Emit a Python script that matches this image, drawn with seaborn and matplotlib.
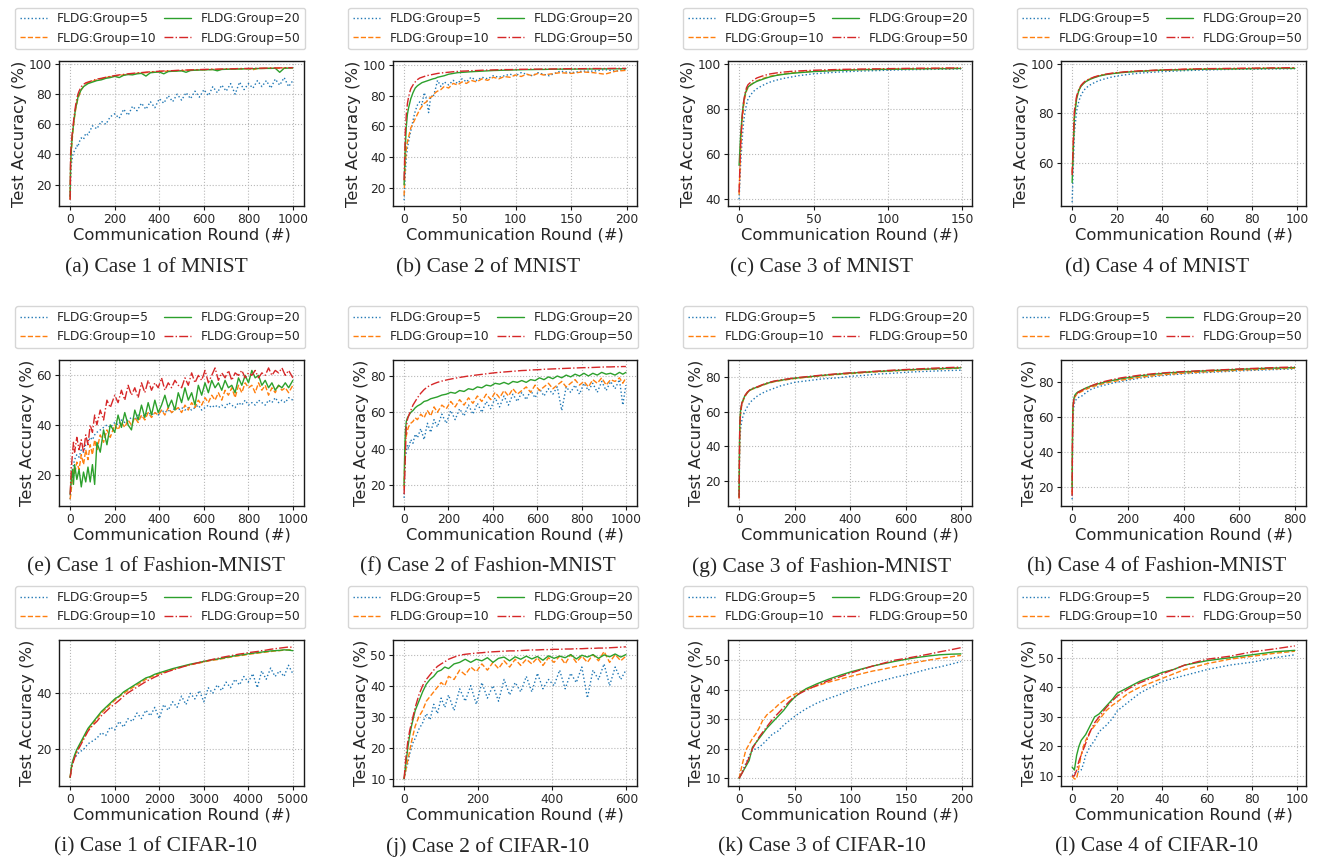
import matplotlib
matplotlib.use('Agg')
import matplotlib.pyplot as plt
from matplotlib.ticker import MultipleLocator
import seaborn as sns

# ---------------- data ----------------
# (a) Case 1 of MNIST
a_x = [0, 2, 4, 6, 8, 10, 13, 16, 20, 25,
       30, 35, 40, 50, 60, 70, 80, 100, 120, 140,
       160, 180, 200, 220, 240, 260, 280, 300, 320, 340,
       360, 380, 400, 420, 440, 460, 480, 500, 520, 540,
       560, 580, 600, 620, 640, 660, 680, 700, 720, 740,
       760, 780, 800, 820, 840, 860, 880, 900, 920, 940,
       960, 980, 999]
a_g5 = [10, 22, 30, 34, 36, 38, 40, 41, 43, 44,
        46, 45, 48, 51, 50, 54, 53, 59, 57, 62,
        60, 65, 67, 64, 70, 66, 72, 69, 74, 70,
        75, 71, 77, 74, 79, 75, 80, 76, 81, 77,
        82, 78, 83, 79, 85, 81, 86, 82, 87, 80,
        88, 83, 87, 84, 89, 85, 89, 84, 90, 86,
        91, 85, 89]
a_g10 = [10, 30, 38, 43, 47, 51, 56, 60, 65, 70,
         74, 77, 79, 83, 85, 86.5, 87.5, 88.5, 89.5, 90.2,
         91, 91.6, 92, 92.4, 92.8, 93.2, 93.5, 93.8, 94, 94.3,
         94.5, 94.7, 95, 95.1, 95.3, 95.4, 95.5, 95.6, 95.8, 95.9,
         96, 96.1, 96.2, 96.3, 96.4, 96.4, 96.5, 96.6, 96.6, 96.7,
         96.8, 96.8, 96.9, 96.2, 97, 97.1, 97.1, 97.2, 97.2, 97.3,
         97.3, 97.4, 97.5]
a_g20 = [12, 33, 40, 45, 49, 53, 57, 61, 66, 71,
         74, 78, 80, 83, 85, 86, 87, 88, 89, 89.5,
         90.5, 91, 91.8, 91, 92.5, 93, 92.8, 93.5, 93.8, 92,
         94.2, 94.5, 94.7, 93.5, 95, 95.2, 95.3, 95.5, 94.5, 95.7,
         95.9, 96, 96.1, 96.2, 96.3, 95.5, 96.4, 96.5, 96.6, 96.6,
         96.7, 96.8, 96.8, 96.9, 97, 97, 97.1, 97.1, 97.2, 94.5,
         97.2, 97.3, 97.4]
a_g50 = [10, 40, 45, 48, 52, 55, 59, 63, 68, 73,
         77, 80, 82, 85, 86.5, 87.5, 88, 89, 90, 90.5,
         91.2, 91.8, 92.3, 92.8, 93.1, 93.5, 93.8, 94.1, 94.3, 94.6,
         94.8, 95, 95.2, 95.4, 95.5, 95.6, 95.8, 95.9, 96, 96.1,
         96.2, 96.3, 96.4, 96.5, 96.5, 96.6, 96.7, 96.8, 96.8, 96.9,
         97, 97, 97.1, 97.1, 97.2, 97.2, 97.3, 97.3, 97.4, 97.4,
         97.5, 97.5, 97.6]

# (b) Case 2 of MNIST
b_x = [0, 1, 2, 3, 4, 5, 6, 8, 10, 12,
       14, 16, 18, 20, 22, 24, 26, 28, 30, 33,
       36, 40, 44, 48, 52, 56, 60, 65, 70, 75,
       80, 85, 90, 95, 100, 105, 110, 115, 120, 125,
       130, 140, 150, 160, 170, 180, 190, 199]
b_g5 = [12, 28, 40, 46, 50, 54, 57, 64, 70, 74,
        76, 74, 82, 78, 69, 80, 79, 84, 90, 86,
        89, 87, 90, 88, 91, 89, 92, 90, 92, 91,
        93, 92, 93, 94, 93, 95, 94, 93, 95, 94,
        93, 96, 95, 96, 96, 97, 96, 97.5]
b_g10 = [15, 35, 45, 50, 53, 56, 59, 62, 65, 68,
         71, 73, 75, 76, 78, 79, 80, 82, 83, 84,
         86, 85, 88, 87, 89, 88, 90, 89, 91, 90,
         92, 91, 92.5, 92, 93.5, 92.5, 94, 93, 94.5, 93.5,
         94, 95, 94.5, 95.5, 95, 94, 96, 96.5]
b_g20 = [22, 45, 60, 68, 72, 75, 78, 82, 85, 86.5,
         87.5, 88.5, 89, 89.5, 90, 90.5, 91, 91.3, 92, 92.5,
         93, 94, 94.5, 95, 95.2, 95.4, 95.6, 95.8, 96, 96.2,
         96.4, 96.5, 96.6, 96.7, 96.8, 96.9, 97, 97, 97.1, 97.1,
         97.2, 97.3, 97.3, 97.4, 97.4, 97.5, 97.5, 97.6]
b_g50 = [25, 55, 68, 75, 79, 82, 84.5, 87, 89, 90.5,
         91.5, 92, 92.5, 93, 93.3, 93.6, 93.9, 94.2, 94.5, 94.8,
         95, 95.3, 95.6, 95.8, 96, 96.1, 96.3, 96.4, 96.6, 96.7,
         96.8, 96.9, 97, 97, 97.1, 97.2, 97.2, 97.3, 97.3, 97.4,
         97.4, 97.5, 97.6, 97.6, 97.7, 97.7, 97.8, 97.8]

# (c) Case 3 of MNIST
c_x = [0, 1, 2, 3, 4, 5, 6, 8, 10, 12,
       15, 18, 21, 25, 30, 35, 40, 50, 60, 70,
       80, 90, 100, 110, 120, 130, 140, 149]
c_g5 = [40, 55, 66, 74, 79, 82, 84.5, 86.5, 88, 89,
        90.2, 91.2, 92, 92.8, 93.6, 94.2, 94.8, 95.6, 96.1, 96.5,
        96.8, 97, 97.2, 97.4, 97.5, 97.6, 97.7, 97.8]
c_g10 = [42, 62, 74, 81, 85.5, 88, 89.5, 90.8, 91.8, 92.5,
         93.3, 94, 94.6, 95.1, 95.6, 96, 96.3, 96.8, 97.1, 97.3,
         97.5, 97.6, 97.7, 97.8, 97.9, 98, 98, 98.1]
c_g20 = [55, 68, 77, 83, 86.5, 88.5, 89.8, 90.8, 91.6, 92.3,
         93, 93.7, 94.3, 94.9, 95.4, 95.8, 96.1, 96.6, 96.9, 97.2,
         97.4, 97.5, 97.6, 97.7, 97.8, 97.9, 97.9, 98]
c_g50 = [43, 64, 76, 83, 87, 89.5, 90.8, 92, 93, 93.8,
         94.5, 95.1, 95.6, 96, 96.4, 96.7, 96.9, 97.2, 97.4, 97.6,
         97.7, 97.8, 97.9, 98, 98.1, 98.1, 98.2, 98.2]

# (d) Case 4 of MNIST
d_x = [0, 1, 2, 3, 4, 5, 6, 8, 10, 12,
       15, 18, 22, 26, 30, 35, 40, 50, 60, 70,
       80, 90, 99]
d_g5 = [44, 72, 81, 85, 87.5, 89, 90.2, 91.5, 92.5, 93.3,
        94.1, 94.8, 95.4, 95.9, 96.3, 96.6, 96.9, 97.3, 97.6, 97.8,
        97.9, 98, 98.1]
d_g10 = [56, 80, 86.5, 89.5, 91.2, 92.2, 93, 94, 94.7, 95.2,
         95.8, 96.2, 96.6, 96.9, 97.1, 97.3, 97.5, 97.8, 98, 98.1,
         98.2, 98.3, 98.3]
d_g20 = [52, 78, 86, 89.3, 91, 92, 92.8, 93.8, 94.5, 95.1,
         95.7, 96.1, 96.5, 96.8, 97, 97.3, 97.5, 97.7, 97.9, 98,
         98.1, 98.2, 98.2]
d_g50 = [55, 81, 87, 89.8, 91.4, 92.4, 93.2, 94.1, 94.8, 95.3,
         95.9, 96.3, 96.7, 97, 97.2, 97.4, 97.6, 97.9, 98.1, 98.2,
         98.3, 98.4, 98.5]

# (e) Case 1 of Fashion-MNIST
e_x = [0, 5, 10, 15, 20, 30, 40, 50, 60, 70,
       80, 90, 100, 110, 120, 135, 150, 165, 180, 200,
       215, 230, 245, 260, 275, 290, 305, 320, 335, 350,
       365, 380, 395, 410, 425, 440, 455, 470, 485, 500,
       515, 530, 545, 560, 575, 590, 605, 620, 635, 650,
       665, 680, 695, 710, 725, 740, 755, 770, 785, 800,
       815, 830, 845, 860, 875, 890, 905, 920, 935, 950,
       965, 980, 999]
e_g5 = [10, 16, 20, 24, 26, 28, 27, 30, 29, 32,
        33, 35, 34, 36, 37, 38, 39, 40, 39, 41,
        40, 42, 41, 42, 43, 42, 44, 43, 44, 45,
        44, 45, 44, 46, 45, 46, 45, 47, 46, 47,
        46, 47, 46, 47, 48, 46, 47, 48, 47, 48,
        47, 48, 47, 49, 48, 47, 49, 48, 50, 48,
        49, 48, 50, 49, 48, 50, 49, 51, 49, 50,
        49, 51, 50]
e_g10 = [10, 14, 18, 22, 20, 25, 22, 28, 24, 30,
         26, 32, 28, 34, 30, 36, 33, 38, 35, 40,
         38, 41, 39, 42, 40, 43, 41, 44, 42, 45,
         43, 45, 44, 46, 44, 47, 45, 46, 47, 45,
         48, 46, 49, 47, 50, 48, 51, 49, 52, 50,
         53, 50, 54, 52, 55, 51, 56, 53, 57, 55,
         56, 53, 57, 54, 56, 52, 55, 53, 56, 54,
         55, 53, 56]
e_g20 = [12, 18, 22, 16, 24, 18, 22, 15, 21, 17,
         23, 17, 24, 16, 33, 29, 38, 32, 40, 37,
         44, 39, 45, 40, 38, 46, 42, 48, 43, 49,
         44, 50, 45, 48, 52, 47, 50, 46, 53, 49,
         55, 50, 53, 48, 56, 52, 57, 53, 58, 55,
         57, 54, 58, 55, 56, 53, 59, 56, 60, 57,
         62, 59, 60, 56, 58, 55, 57, 54, 56, 55,
         57, 55, 58]
e_g50 = [12, 22, 28, 33, 29, 35, 30, 34, 29, 36,
         32, 40, 37, 44, 40, 46, 42, 50, 47, 52,
         49, 54, 50, 56, 52, 55, 51, 57, 53, 58,
         54, 57, 55, 59, 54, 57, 55, 58, 56, 55,
         59, 56, 61, 57, 60, 58, 62, 57, 60, 63,
         58, 61, 59, 62, 58, 61, 60, 62, 59, 61,
         60, 62, 59, 61, 60, 63, 60, 62, 61, 63,
         60, 62, 59]

# (f) Case 2 of Fashion-MNIST
f_x = [0, 3, 6, 10, 15, 20, 30, 40, 50, 60,
       75, 90, 105, 120, 135, 150, 170, 190, 210, 230,
       250, 270, 290, 310, 330, 350, 370, 390, 410, 430,
       450, 470, 490, 510, 530, 550, 570, 590, 610, 630,
       650, 670, 690, 710, 730, 750, 770, 790, 810, 830,
       850, 870, 890, 910, 930, 950, 970, 985, 999]
f_g5 = [13, 28, 36, 38, 42, 40, 45, 43, 48, 46,
        51, 45, 54, 49, 56, 52, 59, 54, 61, 56,
        62, 58, 64, 59, 65, 60, 66, 62, 68, 63,
        69, 64, 70, 66, 71, 67, 72, 68, 73, 69,
        73, 70, 74, 61, 74, 71, 75, 70, 76, 72,
        76, 71, 77, 72, 77, 73, 78, 64, 75]
f_g10 = [18, 35, 44, 47, 50, 52, 54, 55, 57, 56,
         59, 57, 61, 58, 63, 60, 64, 62, 66, 63,
         67, 64, 68, 65, 69, 66, 70, 67, 71, 68,
         72, 69, 73, 70, 72, 74, 71, 75, 72, 74,
         76, 73, 75, 77, 74, 76, 78, 75, 77, 74,
         78, 76, 79, 75, 78, 77, 79, 76, 79]
f_g20 = [20, 40, 50, 55, 57, 58, 60, 61, 62.5, 63.5,
         64.5, 66, 66.5, 67.5, 68, 68.5, 69.5, 70, 71, 70.5,
         72, 71.5, 73, 72.5, 74, 73.5, 75, 74.5, 76, 75.5,
         76.5, 75.5, 77, 76.5, 77.5, 76.5, 78, 77.5, 79, 78,
         79.5, 78.5, 80, 79, 80.5, 79.5, 81, 80, 81.5, 80,
         81.5, 80.5, 82, 81, 81.5, 80.5, 82, 81, 82]
f_g50 = [15, 25, 38, 52, 56, 58, 61, 64, 66, 68,
         70.5, 72.5, 74, 75, 75.8, 76.5, 77.2, 77.8, 78.3, 78.8,
         79.2, 79.6, 80, 80.3, 80.6, 80.9, 81.2, 81.5, 81.8, 82,
         82.2, 82.4, 82.6, 82.8, 83, 83.1, 83.3, 83.4, 83.5, 83.7,
         83.8, 83.9, 84, 84.1, 84.2, 84.3, 84.4, 84.5, 84.6, 84.6,
         84.7, 84.8, 84.9, 85, 85, 85.1, 85.1, 85.2, 85.2]

# (g) Case 3 of Fashion-MNIST
g_x = [0, 1, 2, 3, 5, 7, 10, 15, 20, 30,
       40, 50, 65, 80, 100, 125, 150, 175, 200, 250,
       300, 350, 400, 450, 500, 550, 600, 650, 700, 750,
       799]
g_g5 = [12, 25, 38, 44, 49, 52, 55, 58, 60, 63,
        65.5, 67, 69, 70.5, 72, 73.5, 75, 76, 77, 78,
        79, 79.5, 80.5, 81, 81.8, 82.2, 82.8, 83.2, 83.5, 83.8,
        84]
g_g10 = [10, 30, 45, 52, 58, 61, 64, 66.5, 68.5, 71,
         72.5, 73.2, 74, 75, 76.2, 77.3, 78, 78.6, 79.2, 80,
         80.8, 81.5, 82, 82.6, 83.1, 83.5, 84, 84.3, 84.6, 84.9,
         85.2]
g_g20 = [11, 33, 48, 55, 60, 62.5, 65, 67, 69, 71.2,
         72.6, 73.4, 74.2, 75.2, 76.4, 77.5, 78.2, 78.8, 79.4, 80.2,
         81, 81.7, 82.3, 82.8, 83.3, 83.7, 84.2, 84.5, 84.8, 85.1,
         85.4]
g_g50 = [10, 31, 46, 54, 59, 62, 65, 67.2, 69.2, 71.4,
         72.8, 73.6, 74.4, 75.4, 76.6, 77.7, 78.4, 79, 79.6, 80.4,
         81.2, 81.9, 82.5, 83, 83.5, 84, 84.4, 84.8, 85.2, 85.5,
         85.8]

# (h) Case 4 of Fashion-MNIST
h_x = [0, 1, 2, 3, 5, 7, 10, 15, 20, 30,
       40, 50, 65, 80, 100, 125, 150, 175, 200, 250,
       300, 350, 400, 450, 500, 550, 600, 650, 700, 750,
       799]
h_g5 = [13, 35, 50, 58, 64, 67, 69, 70, 71, 71.5,
        72.5, 74, 75.5, 76.5, 77.5, 78.5, 79.5, 80.2, 81, 82.3,
        83.2, 84, 84.6, 85.1, 85.5, 85.9, 86.3, 86.6, 86.9, 87.2,
        87.4]
h_g10 = [16, 42, 58, 64, 68, 70, 71.5, 72.5, 73.3, 74.2,
         75, 75.8, 76.8, 77.6, 78.5, 79.5, 80.3, 81, 81.6, 82.8,
         83.7, 84.4, 85, 85.5, 85.9, 86.3, 86.7, 87, 87.3, 87.6,
         87.8]
h_g20 = [20, 45, 60, 66, 69, 71, 72.5, 73.5, 74.2, 75,
         75.8, 76.6, 77.5, 78.3, 79.2, 80.2, 81, 81.8, 82.4, 83.6,
         84.5, 85.2, 85.7, 86.1, 86.5, 86.8, 87.2, 87.5, 87.8, 88,
         88.2]
h_g50 = [15, 43, 59, 65, 68.5, 70.5, 72, 73, 73.8, 74.8,
         75.6, 76.5, 77.5, 78.5, 79.6, 80.6, 81.5, 82.3, 82.9, 84,
         84.8, 85.4, 85.9, 86.3, 86.7, 87, 87.4, 87.7, 88, 88.3,
         88.5]

# (i) Case 1 of CIFAR-10
i_x = [0, 25, 50, 100, 150, 200, 300, 400, 500, 600,
       700, 800, 900, 1000, 1100, 1200, 1300, 1400, 1500, 1600,
       1700, 1800, 1900, 2000, 2100, 2200, 2300, 2400, 2500, 2600,
       2700, 2800, 2900, 3000, 3100, 3200, 3300, 3400, 3500, 3600,
       3700, 3800, 3900, 4000, 4100, 4200, 4300, 4400, 4500, 4600,
       4700, 4800, 4900, 4999]
i_g5 = [10, 13, 15, 17, 18, 19, 20, 22, 23, 24,
        26, 25, 28, 27, 30, 28, 31, 30, 33, 31,
        34, 32, 35, 31, 36, 34, 37, 35, 39, 36,
        40, 38, 41, 37, 42, 40, 43, 41, 44, 42,
        45, 43, 46, 44, 47, 42, 48, 45, 49, 46,
        48, 46, 50, 47]
i_g10 = [10, 13, 15, 17.5, 19.5, 21, 24, 27, 29, 31,
         33, 34.5, 36, 37.5, 38.8, 40, 41, 42, 43, 44,
         45, 45.7, 46.4, 47, 47.5, 48, 48.5, 49, 49.5, 49.8,
         50.2, 50.5, 50.8, 51.2, 51.5, 51.8, 52, 52.3, 52.6, 52.9,
         53.2, 53.4, 53.6, 53.9, 54.1, 54.3, 54.5, 54.7, 54.9, 55.1,
         55.2, 55.4, 55.5, 55.6]
i_g20 = [10, 13.5, 15.5, 18, 20, 21.5, 24.5, 27.5, 29.5, 31.5,
         33.5, 35, 36.5, 38, 39, 40.5, 41.5, 42.5, 43.5, 44.5,
         45.5, 46, 46.8, 47.3, 47.8, 48.3, 48.8, 49.2, 49.6, 50,
         50.4, 50.7, 51, 51.4, 51.7, 52, 52.2, 52.5, 52.8, 53.1,
         53.4, 53.6, 53.8, 54.1, 54.3, 54.5, 54.7, 54.9, 55.1, 55.2,
         55.3, 55.5, 55.4, 55.2]
i_g50 = [10, 12.5, 14.5, 17, 19, 20.5, 23.5, 26.5, 28.5, 30,
         32, 33.5, 35, 36.2, 37.5, 39, 40.2, 41.2, 42.2, 43.2,
         44.2, 45, 45.8, 46.5, 47.2, 47.8, 48.3, 48.8, 49.3, 49.8,
         50.2, 50.6, 51, 51.4, 51.7, 52.1, 52.4, 52.8, 53.1, 53.4,
         53.7, 54, 54.2, 54.5, 54.7, 54.9, 55.2, 55.4, 55.7, 55.9,
         56.1, 56.3, 56.5, 56.4]

# (j) Case 2 of CIFAR-10
j_x = [0, 5, 10, 15, 20, 25, 30, 40, 50, 60,
       70, 80, 90, 100, 110, 120, 135, 150, 165, 180,
       195, 210, 225, 240, 255, 270, 285, 300, 315, 330,
       345, 360, 375, 390, 405, 420, 435, 450, 465, 480,
       495, 510, 525, 540, 555, 570, 585, 599]
j_g5 = [10, 13, 15, 18, 20, 22, 23, 26, 28, 31,
        29, 34, 31, 36, 33, 37, 32, 39, 35, 40,
        34, 41, 36, 40, 35, 42, 37, 41, 38, 43,
        38, 44, 39, 42, 40, 45, 39, 44, 41, 46,
        36, 45, 42, 47, 40, 46, 42, 45]
j_g10 = [10, 13, 16, 19, 22, 24.5, 27, 30, 32, 35,
         36.5, 38, 39.5, 41, 40, 43, 42, 45, 43.5, 46,
         44.5, 47, 45, 47.5, 45.5, 48, 46, 48.5, 46.5, 48.5,
         47, 49, 46.5, 49, 47.5, 49.5, 47, 50, 47.5, 49.5,
         47.5, 50, 48, 51, 47.5, 50, 48, 49.5]
j_g20 = [10, 15, 20, 24, 27, 29.5, 32, 35, 38, 40.5,
         42, 43, 44.5, 45, 46, 45.5, 47, 47.5, 48.5, 47.5,
         48.5, 48, 49, 47.5, 48.8, 49.2, 48, 49.3, 48.5, 49.5,
         48.6, 49.4, 48.2, 49.6, 48.8, 49.5, 49, 50, 48.6, 49.8,
         49.2, 50, 48.8, 49.9, 49.3, 50.2, 49.2, 50]
j_g50 = [10, 17, 22, 25.5, 28, 30.5, 33, 37, 40, 42,
         43.5, 45, 46.2, 47, 47.7, 48.5, 49.2, 49.8, 50.1, 50.3,
         50.5, 50.6, 50.8, 50.9, 51, 51.1, 51.2, 51.2, 51.3, 51.4,
         51.5, 51.5, 51.6, 51.6, 51.7, 51.7, 51.8, 51.8, 51.9, 51.9,
         52, 52, 52.1, 52.1, 52.2, 52.3, 52.4, 52.5]

# (k) Case 3 of CIFAR-10
k_x = [0, 3, 6, 9, 12, 15, 18, 21, 25, 30,
       35, 40, 45, 50, 55, 60, 70, 80, 90, 100,
       110, 120, 130, 140, 150, 160, 170, 180, 190, 199]
k_g5 = [10, 12.5, 15, 17.5, 19.5, 20, 20.5, 21.5, 23, 25,
        26, 28, 29.5, 31, 32.3, 33.5, 35.5, 37, 38.3, 40,
        41, 42.2, 43.2, 44.2, 45, 46, 47, 47.7, 48.6, 49.5]
k_g10 = [10, 15, 19.5, 21.5, 23.5, 25, 27, 29.5, 31.5, 33,
         34.8, 36.3, 37.5, 38.5, 39.3, 40, 41.3, 42.5, 43.5, 44.5,
         45.4, 46.3, 47, 47.8, 48.6, 49.3, 50, 50.6, 51.1, 51.6]
k_g20 = [10, 12, 14, 16, 20.5, 22, 23.5, 25, 27, 29,
         31, 33, 35.5, 37.5, 39, 40.3, 42, 43.5, 44.8, 46,
         47, 48, 48.8, 49.6, 50.3, 50.9, 51.4, 51.8, 52, 52.1]
k_g50 = [10, 12, 14.5, 17, 20, 22, 24, 25.5, 27.5, 30,
         32, 34, 36, 37.8, 38.8, 39.8, 41.5, 43, 44.3, 45.6,
         46.8, 48, 49, 50, 50.6, 51.3, 52, 52.8, 53.5, 54.2]

# (l) Case 4 of CIFAR-10
l_x = [0, 1, 2, 3, 4, 5, 6, 8, 10, 12,
       15, 18, 20, 25, 30, 35, 40, 45, 50, 60,
       70, 80, 90, 99]
l_g5 = [10, 11, 11, 11.5, 12, 14, 17, 20, 22, 25,
        27, 29.5, 32, 35, 38, 40, 42, 43, 44, 46,
        47.5, 48.5, 50, 51]
l_g10 = [10, 9, 9, 13, 17, 20, 22, 25, 27, 29,
         32, 34, 35, 38, 40, 41.5, 43, 44.5, 46, 48,
         49.5, 50.5, 51.5, 52.2]
l_g20 = [13, 12, 17, 20, 22, 23, 24, 27, 30, 31,
         33.5, 36, 38, 40, 42, 43.5, 45, 46, 47.5, 49,
         50, 51, 52, 52.5]
l_g50 = [10, 10, 12, 15, 17, 19, 21, 25, 28, 30,
         33, 35.5, 37, 39.5, 41.5, 43, 44.5, 46, 47.5, 49.5,
         50.5, 52, 53, 54]

labels = ['FLDG:Group=5', 'FLDG:Group=10', 'FLDG:Group=20', 'FLDG:Group=50']
captions = ['(a) Case 1 of MNIST', '(b) Case 2 of MNIST',
            '(c) Case 3 of MNIST', '(d) Case 4 of MNIST',
            '(e) Case 1 of Fashion-MNIST', '(f) Case 2 of Fashion-MNIST',
            '(g) Case 3 of Fashion-MNIST', '(h) Case 4 of Fashion-MNIST',
            '(i) Case 1 of CIFAR-10', '(j) Case 2 of CIFAR-10',
            '(k) Case 3 of CIFAR-10', '(l) Case 4 of CIFAR-10']

panels = [
    (a_x, [a_g5, a_g10, a_g20, a_g50], (5.8, 102), 200, 20),
    (b_x, [b_g5, b_g10, b_g20, b_g50], (8.2, 102.6), 50, 20),
    (c_x, [c_g5, c_g10, c_g20, c_g50], (37, 101.3), 50, 20),
    (d_x, [d_g5, d_g10, d_g20, d_g50], (42.5, 101.2), 20, 20),
    (e_x, [e_g5, e_g10, e_g20, e_g50], (7.3, 66.2), 200, 20),
    (f_x, [f_g5, f_g10, f_g20, f_g50], (8.5, 88.8), 200, 20),
    (g_x, [g_g5, g_g10, g_g20, g_g50], (5.6, 89.9), 200, 20),
    (h_x, [h_g5, h_g10, h_g20, h_g50], (9.2, 92.5), 200, 20),
    (i_x, [i_g5, i_g10, i_g20, i_g50], (7, 59), 1000, 20),
    (j_x, [j_g5, j_g10, j_g20, j_g50], (7.7, 54.7), 200, 10),
    (k_x, [k_g5, k_g10, k_g20, k_g50], (7.4, 56.8), 50, 10),
    (l_x, [l_g5, l_g10, l_g20, l_g50], (6.6, 56), 20, 10),
]

# ---------------- style ----------------
sns.set_style('whitegrid', {'axes.edgecolor': '0.1',
                            'grid.color': '0.72',
                            'grid.linestyle': ':',
                            'xtick.bottom': True,
                            'ytick.left': True})
plt.rcParams['font.family'] = ['DejaVu Sans']
pal = sns.color_palette('tab10')
line_styles = [':', '--', '-', '-.']

W, H = 1320, 858
fig = plt.figure(figsize=(W / 100, H / 100), dpi=100)

col_px = [(59, 304), (393, 637), (728, 972), (1061, 1306)]
row_px = [(61, 206), (360, 506), (640, 786)]
cap_x = [156, 488, 822, 1157]
cap_y = [268, 567, 847]

for n, (xs, ys, ylim, xstep, ystep) in enumerate(panels):
    r, c = divmod(n, 4)
    x0, x1 = col_px[c]
    y0, y1 = row_px[r]
    ax = fig.add_axes([x0 / W, 1 - y1 / H, (x1 - x0) / W, (y1 - y0) / H])
    for k in range(4):
        sns.lineplot(x=xs, y=ys[k], ax=ax, color=pal[k],
                     linestyle=line_styles[k], linewidth=1.0,
                     label=labels[k])
    ax.set_ylim(*ylim)
    ax.margins(x=0.05)
    ax.xaxis.set_major_locator(MultipleLocator(xstep))
    ax.yaxis.set_major_locator(MultipleLocator(ystep))
    ax.tick_params(labelsize=8.8, length=3, width=0.8, pad=2, color='0.1')
    ax.set_xlabel('Communication Round (#)', fontsize=11.8, labelpad=1)
    ax.set_ylabel('Test Accuracy (%)', fontsize=11.8, labelpad=1)
    for s in ax.spines.values():
        s.set_linewidth(1.0)
    ax.legend(ncol=2, fontsize=8.8, loc='lower right',
              bbox_to_anchor=(1.005, 1.08), borderaxespad=0,
              columnspacing=0.6, handlelength=2.2, handletextpad=0.8,
              frameon=True)
    fig.text(cap_x[c] / W, 1 - cap_y[r] / H, captions[n],
             ha='center', va='center', fontsize=15.5,
             family='Liberation Serif')

fig.savefig('out.png', dpi=100)
